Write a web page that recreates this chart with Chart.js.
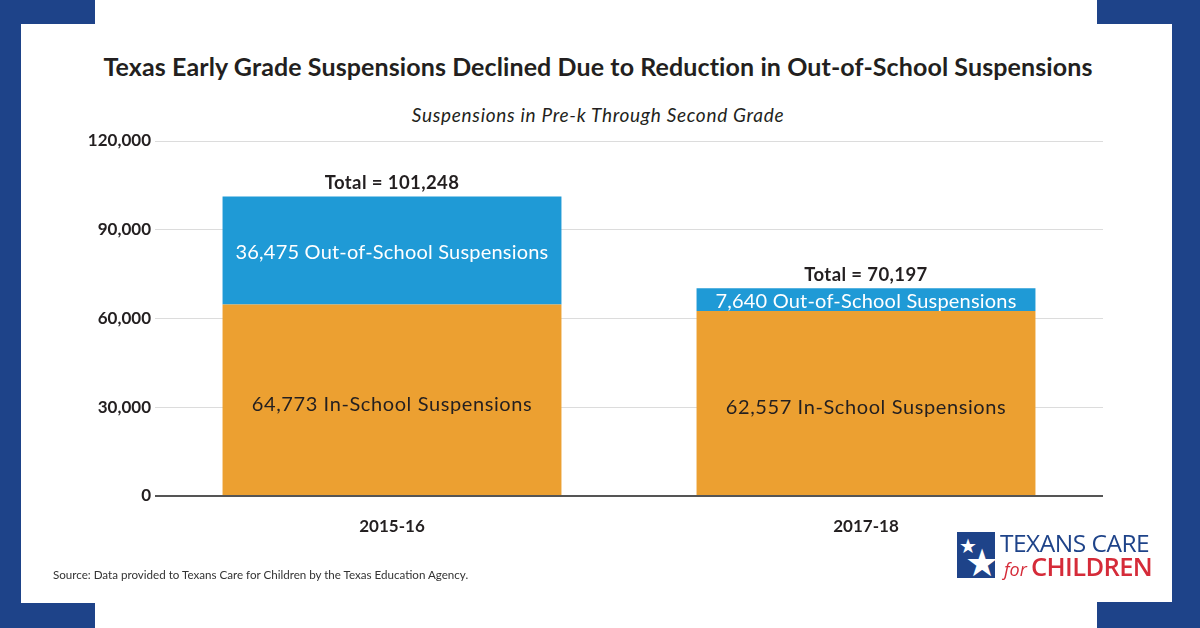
<!DOCTYPE html>
<html>
<head>
<meta charset="utf-8">
<script src="https://cdn.jsdelivr.net/npm/chart.js@4.4.1/dist/chart.umd.min.js"></script>
<style>
  html, body { margin: 0; padding: 0; background: #fff; }
  #page { position: relative; width: 1200px; height: 628px; overflow: hidden; background: #fff; font-family: Lato, "Open Sans", sans-serif; }
  .blue { position: absolute; background: #1e4389; }
  #title { position: absolute; left: 0; width: 1196px; top: 51px; text-align: center; font-size: 25px; font-weight: 700; color: #231f20; letter-spacing: 0.1px; }
  #subtitle { position: absolute; left: 0; width: 1196px; top: 103px; text-align: center; font-size: 19px; font-style: italic; color: #231f20; letter-spacing: 0.7px; }
  #source { position: absolute; left: 53px; top: 568px; font-size: 11.6px; color: #333; }
  #chartBox { position: absolute; left: 0; top: 0; width: 1200px; height: 628px; }
  #logo { position: absolute; left: 957px; top: 531px; width: 200px; height: 50px; }
  #logoBox { position: absolute; left: 0; top: 1px; width: 38px; height: 46px; background: #1e4389; overflow: hidden; }
  #logoBox span { position: absolute; color: #fff; line-height: 1; }
  #logo1 { position: absolute; left: 43px; top: 0px; font-size: 24.5px; color: #1e4389; font-family: "Open Sans", sans-serif; letter-spacing: -0.5px; line-height: 24px; white-space: nowrap; }
  #logo2 { position: absolute; left: 47px; top: 23px; color: #d52b39; white-space: nowrap; line-height: 24px; font-family: "Open Sans", sans-serif; }
  #logo2 i { font-size: 18px; margin-right: 4px; }
  #logo2 b { font-size: 25.5px; font-weight: 600; letter-spacing: -0.6px; }
</style>
</head>
<body>
<div id="page">
  <div class="blue" style="left:0;top:0;width:95px;height:24px"></div>
  <div class="blue" style="left:0;top:0;width:21px;height:628px"></div>
  <div class="blue" style="left:1097px;top:0;width:103px;height:24px"></div>
  <div class="blue" style="left:1172px;top:0;width:28px;height:628px"></div>
  <div class="blue" style="left:0;top:603px;width:95px;height:25px"></div>
  <div class="blue" style="left:1097px;top:602px;width:103px;height:26px"></div>

  <div id="title">Texas Early Grade Suspensions Declined Due to Reduction in Out-of-School Suspensions</div>
  <div id="subtitle">Suspensions in Pre-k Through Second Grade</div>
  <div id="chartBox"><canvas id="suspChart"></canvas></div>
  <div id="source">Source: Data provided to Texans Care for Children by the Texas Education Agency.</div>

  <div id="logo">
    <div id="logoBox">
      <span style="left:2px;top:3px;font-size:20px">&#9733;</span>
      <span style="left:8px;top:10px;font-size:38px">&#9733;</span>
    </div>
    <div id="logo1">TEXANS CARE</div>
    <div id="logo2"><i>for</i><b>CHILDREN</b></div>
  </div>
</div>
<script>
var years = ['2015-16', '2017-18'];
var inSchool = [64773, 62557];
var outSchool = [36475, 7640];
var totals = [101248, 70197];
var yTicks = [0, 30000, 60000, 90000, 120000];

var orangeColor = '#eca031';
var blueColor = '#1f9ad6';

function fmt(n) {
    return n.toLocaleString('en-US');
}

// labels inside the bars and totals above them
var barLabels = {
    id: 'barLabels',
    afterDatasetsDraw: function(chart) {
        var ctx = chart.ctx;
        var inMeta = chart.getDatasetMeta(0);
        var outMeta = chart.getDatasetMeta(1);
        ctx.save();
        ctx.textAlign = 'center';
        for (var i = 0; i < years.length; i++) {
            var a = inMeta.data[i], b = outMeta.data[i];
            ctx.textBaseline = 'middle';
            ctx.letterSpacing = '0.6px';
            ctx.font = '20px Lato, "Open Sans", sans-serif';
            ctx.fillStyle = '#231f20';
            ctx.fillText(fmt(inSchool[i]) + ' In-School Suspensions', a.x, (a.y + a.base) / 2 + 5);
            ctx.letterSpacing = '0.2px';
            ctx.fillStyle = '#fff';
            ctx.fillText(fmt(outSchool[i]) + ' Out-of-School Suspensions', b.x, (b.y + b.base) / 2 + 2);
            ctx.letterSpacing = '0.4px';
            ctx.font = 'bold 18.5px Lato, "Open Sans", sans-serif';
            ctx.fillStyle = '#231f20';
            ctx.textBaseline = 'alphabetic';
            ctx.fillText('Total = ' + fmt(totals[i]), b.x, b.y - 7);
        }
        ctx.restore();
    }
};

new Chart(document.getElementById('suspChart'), {
    type: 'bar',
    data: {
        labels: years,
        datasets: [
            { label: 'In-School Suspensions', data: inSchool, backgroundColor: orangeColor, categoryPercentage: 1, barPercentage: 0.715 },
            { label: 'Out-of-School Suspensions', data: outSchool, backgroundColor: blueColor, categoryPercentage: 1, barPercentage: 0.715 }
        ]
    },
    options: {
        responsive: true,
        maintainAspectRatio: false,
        animation: false,
        layout: { padding: { left: 40, right: 97, top: 141, bottom: 80 } },
        plugins: { legend: { display: false }, tooltip: { enabled: false } },
        scales: {
            x: {
                stacked: true,
                grid: { display: false },
                border: { display: false },
                ticks: { color: '#231f20', font: { family: 'Lato', size: 17, weight: 'bold' }, padding: 12 },
                afterFit: function(s) { s.height = 52; }
            },
            y: {
                stacked: true,
                min: 0,
                max: 120000,
                afterBuildTicks: function(s) { s.ticks = yTicks.map(function(v) { return { value: v }; }); },
                border: { display: false },
                grid: {
                    drawTicks: false,
                    color: function(c) { return c.tick && c.tick.value === 0 ? '#555' : '#dcdcdc'; },
                    lineWidth: function(c) { return c.tick && c.tick.value === 0 ? 2 : 1; }
                },
                ticks: {
                    color: '#231f20',
                    font: { family: 'Lato', size: 17, weight: 'bold' },
                    padding: 4,
                    callback: function(v) { return fmt(v); }
                },
                afterFit: function(s) { s.width = 115; }
            }
        }
    },
    plugins: [barLabels]
});
</script>
</body>
</html>
